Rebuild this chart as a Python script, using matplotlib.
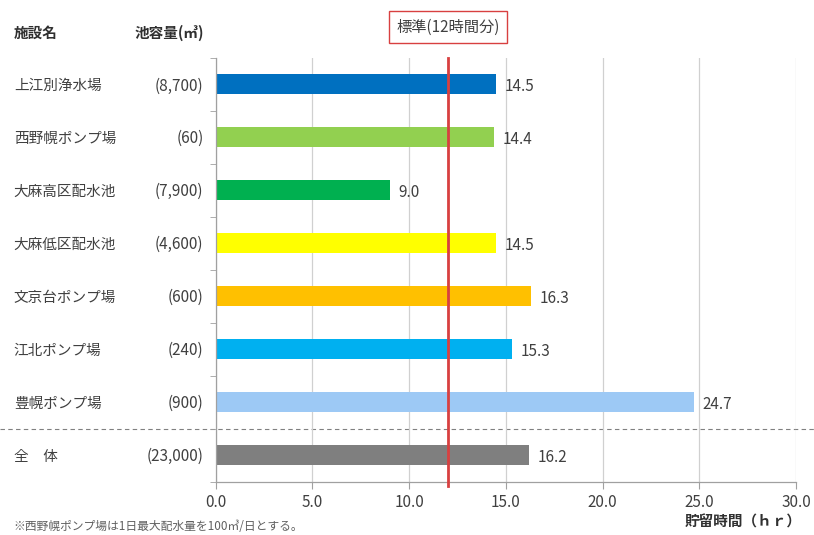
import matplotlib.pyplot as plt
import matplotlib.transforms as mtransforms

plt.rcParams["font.family"] = ["Noto Sans CJK JP", "DejaVu Sans"]

FACILITIES = ["上江別浄水場", "西野幌ポンプ場", "大麻高区配水池", "大麻低区配水池",
              "文京台ポンプ場", "江北ポンプ場", "豊幌ポンプ場", "全　体"]
CAPACITIES = ["(8,700)", "(60)", "(7,900)", "(4,600)", "(600)", "(240)", "(900)", "(23,000)"]
HOURS = [14.5, 14.4, 9.0, 14.5, 16.3, 15.3, 24.7, 16.2]
BAR_COLORS = ["#0070C0", "#92D050", "#00B050", "#FFFF00",
              "#FFC000", "#00B0F0", "#9DC9F5", "#7F7F7F"]
STANDARD_HOURS = 12
X_TICKS = [0, 5, 10, 15, 20, 25, 30]

TEXT = "#404040"
GRID = "#D0D0D0"

fig = plt.figure(figsize=(8.14, 5.35), dpi=100)
ax = fig.add_axes([0.265, 0.100, 0.713, 0.792])

ypos = list(range(len(HOURS)))
ax.barh(ypos, HOURS, height=0.38, color=BAR_COLORS, zorder=2)
for y, v in zip(ypos, HOURS):
    ax.text(v + 0.45, y + 0.04, f"{v:.1f}", va="center", ha="left",
            fontsize=11, color=TEXT)

ax.set_xlim(0, 30)
ax.set_ylim(len(HOURS) - 0.5, -0.5)
ax.set_xticks(X_TICKS)
ax.set_xticklabels([f"{t:.1f}" for t in X_TICKS], fontsize=11, color=TEXT)
ax.set_yticks([])
ax.set_yticks([i - 0.5 for i in range(len(HOURS) + 1)], minor=True)
ax.tick_params(axis="y", which="minor", length=4, color="#A0A0A0")
ax.tick_params(axis="x", length=5, color="#A0A0A0", pad=4)
ax.grid(axis="x", color=GRID, linewidth=0.9, zorder=0)
for side in ("top", "right"):
    ax.spines[side].set_visible(False)
for side in ("left", "bottom"):
    ax.spines[side].set_color("#A0A0A0")
    ax.spines[side].set_linewidth(0.9)

# divider between individual facilities and the overall total
ax.axhline(len(HOURS) - 1.5, xmin=-0.372, xmax=1.031, clip_on=False,
           color="#808080", linestyle=(0, (4, 3)), linewidth=0.8, zorder=1)

# standard retention line
ax.axvline(STANDARD_HOURS, ymin=-0.01, ymax=1.0, clip_on=False,
           color="#D84040", linewidth=2.0, zorder=3)
ax.text(STANDARD_HOURS, 1.072, "標準(12時間分)", transform=ax.get_xaxis_transform(),
        ha="center", va="center", fontsize=11, color=TEXT,
        bbox=dict(boxstyle="square,pad=0.5", facecolor="white",
                  edgecolor="#D84040", linewidth=1.0))

# row labels: facility name and tank capacity
row_trans = mtransforms.blended_transform_factory(fig.transFigure, ax.transData)
for y, name, cap in zip(ypos, FACILITIES, CAPACITIES):
    ax.text(0.017, y + 0.03, name, transform=row_trans, ha="left", va="center",
            fontsize=10.5, color=TEXT)
    ax.text(0.250, y + 0.03, cap, transform=row_trans, ha="right", va="center",
            fontsize=11, color=TEXT)

fig.text(0.017, 0.938, "施設名", ha="left", va="center", fontsize=10.5,
         fontweight="bold", color="#303030")
fig.text(0.165, 0.938, "池容量(㎥)", ha="left", va="center", fontsize=10.5,
         fontweight="bold", color="#303030")
fig.text(0.985, 0.025, "貯留時間（ｈｒ）", ha="right", va="center", fontsize=10.5,
         fontweight="bold", color="#303030")
fig.text(0.017, 0.016, "※西野幌ポンプ場は1日最大配水量を100㎥/日とする。",
         ha="left", va="center", fontsize=8.5, color="#606060")

fig.savefig("out.png", dpi=100)
